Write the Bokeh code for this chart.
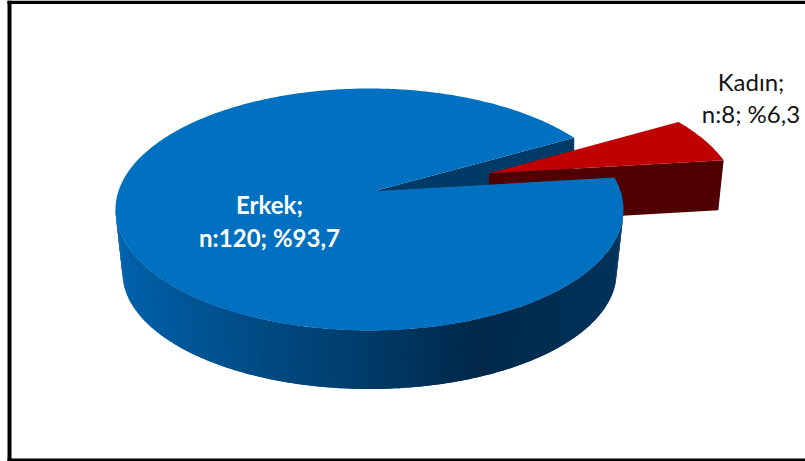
import numpy as np
from bokeh.embed import file_html
from bokeh.models import Range1d
from bokeh.plotting import figure
from bokeh.resources import INLINE
from bokeh.core.properties import value

# Survey counts by gender
categories = ["Erkek", "Kadın"]
counts = [120, 8]
percent_labels = ["%93,7", "%6,3"]

WIDTH, HEIGHT = 805, 461

# Projected disc: top face, lower rim, and where the eye-point moves the disc centre
CX, CY, RX, RY = 369.0, 209.0, 254.0, 121.0
CX2, CY2, RX2, RY2 = 369.0, 272.0, 247.0, 116.5
PIVOT = np.array([0.016, -0.151])
SLICE_START_DEG = -29.5
EXPLODE = 0.50
RED_RADIUS = 1.02
WALL_DEPTH = 50.0

TOP_BLUE, TOP_RED = "#0070C0", "#C00000"
WALL_RED, WALL_NAVY = "#4F0000", "#003A66"
WALL_STOPS_X = [115, 250, 350, 480, 623]
WALL_STOPS_RGB = [(0, 98, 172), (0, 76, 134), (0, 62, 110), (0, 41, 74), (0, 52, 92)]


def project(x, y):
    """Map unit-disc plane coordinates to the page, keeping straight lines straight."""
    x, y = np.asarray(x, float), np.asarray(y, float)
    c2 = PIVOT @ PIVOT
    g = 1 / np.sqrt(1 - c2)
    dot = PIVOT[0] * x + PIVOT[1] * y
    t = g * (1 + dot)
    k = (g - 1) / c2 * dot + g
    return CX + RX * (x + PIVOT[0] * k) / t, CY + RY * (y + PIVOT[1] * k) / t


def wall_color(x):
    rgb = [int(np.interp(x, WALL_STOPS_X, [s[i] for s in WALL_STOPS_RGB])) for i in range(3)]
    return "#%02x%02x%02x" % tuple(rgb)


def drop(x, y):
    """Lower edge of the far-side walls under a top-face point."""
    return CX + (x - CX) * 0.985, y + WALL_DEPTH


share = np.array(counts) / sum(counts)
sweep = share[1] * 2 * np.pi
a0 = np.radians(SLICE_START_DEG)
a1 = a0 + sweep
mid = (a0 + a1) / 2

p = figure(width=WIDTH, height=HEIGHT, output_backend="svg", toolbar_location=None,
           x_range=Range1d(0, WIDTH), y_range=Range1d(HEIGHT, 0),
           min_border=0, outline_line_color=None)
p.axis.visible = False
p.grid.visible = False
p.background_fill_color = "white"
p.border_fill_color = "white"

# Chart frame: thick left, top and bottom rules
p.quad(left=[7, 7, 7], right=[11, WIDTH, WIDTH], top=[0, 0, 458], bottom=[461, 3.4, 461],
       fill_color="black", line_color=None)

# Blue slice boundary
blue_t = np.linspace(a1, a0 + 2 * np.pi, 400)
bx, by = project(np.cos(blue_t), np.sin(blue_t))
ax, ay = project(0.0, 0.0)

# Cut face of the blue slice seen through the gap
cx0, cy0 = project(np.cos(a0), np.sin(a0))
p.patch([ax, cx0, cx0, ax], [ay, cy0, cy0 + WALL_DEPTH, ay + WALL_DEPTH],
        fill_color=WALL_NAVY, line_color=None)

# Pulled-out red slice
off_x, off_y = EXPLODE * np.cos(mid), EXPLODE * np.sin(mid)
red_t = np.linspace(a0, a1, 40)
rx_pts, ry_pts = project(off_x + RED_RADIUS * np.cos(red_t), off_y + RED_RADIUS * np.sin(red_t))
rax, ray = project(off_x, off_y)
red_x = np.r_[rax, rx_pts]
red_y = np.r_[ray, ry_pts]
low_x, low_y = drop(rx_pts[-1], ry_pts[-1])
low_ax, low_ay = drop(rax, ray)
p.patch([rax, rx_pts[-1], low_x, low_ax], [ray, ry_pts[-1], low_y, low_ay],
        fill_color=WALL_RED, line_color=None)
p.patch(red_x, red_y, fill_color=TOP_RED, line_color=None)

# Outer rim of the blue slice, shaded in overlapping strips painted right to left
phi = np.linspace(0, np.pi, 181)
tx, ty = CX + RX * np.cos(phi), CY + RY * np.sin(phi)
lx, ly = CX2 + RX2 * np.cos(phi), CY2 + RY2 * np.sin(phi)
for i in range(len(phi) - 1):
    j = min(i + 2, len(phi) - 1)
    seg = np.arange(i, j + 1)
    col = wall_color((tx[i] + tx[i + 1]) / 2)
    p.patch(np.r_[tx[seg], lx[seg][::-1]], np.r_[ty[seg], ly[seg][::-1]],
            fill_color=col, line_color=None)

# Top face of the blue slice
p.patch(np.r_[ax, bx], np.r_[ay, by], fill_color=TOP_BLUE, line_color=None)

# Data labels
font = value("Lato")
p.text([269, 269], [204, 237], text=[f"{categories[0]};", f"n:{counts[0]}; {percent_labels[0]}"],
       text_font=font, text_font_style="bold", text_font_size="24px", text_color="white",
       text_align="center", text_baseline="middle")
p.text([750.5, 750.5], [81, 113], text=[f"{categories[1]};", f"n:{counts[1]}; {percent_labels[1]}"],
       text_font=font, text_font_style="normal", text_font_size="24px", text_color="#141414",
       text_align="center", text_baseline="middle")

open("out.html", "w").write(file_html(p, INLINE))
